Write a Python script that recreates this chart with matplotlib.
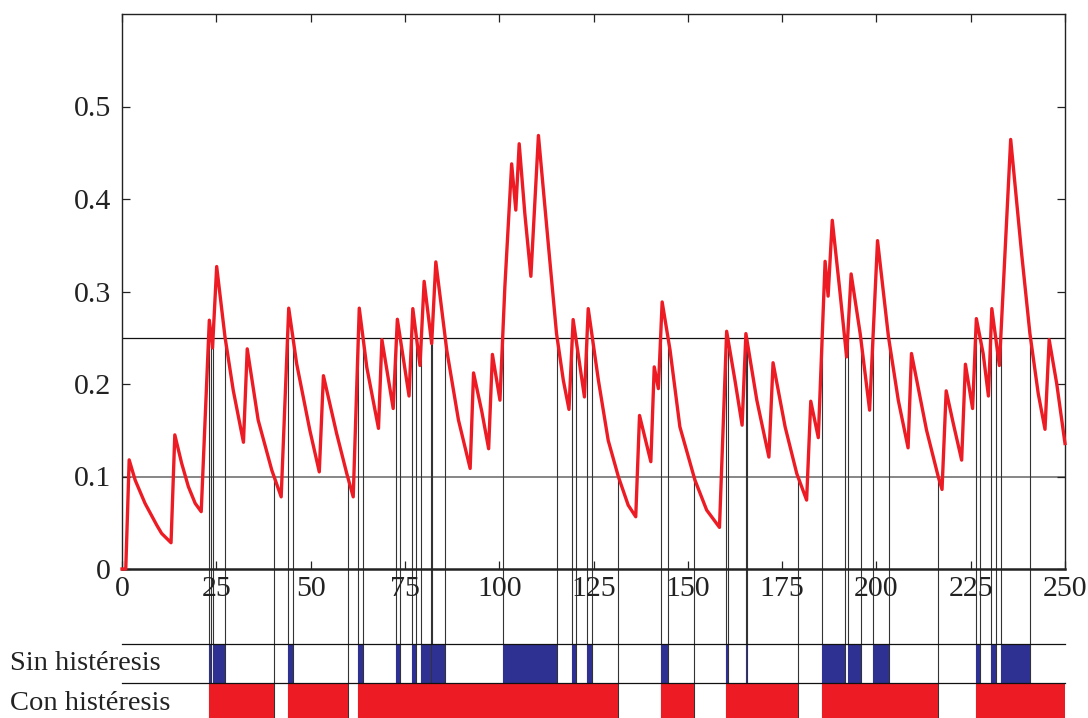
import numpy as np
import matplotlib
matplotlib.use('Agg')
import matplotlib.pyplot as plt

plt.rcParams['font.family'] = ['Liberation Serif', 'DejaVu Serif']

# signal samples (time, level)
t = [0, 1, 1.9, 3.5, 6.1, 9.2, 10.5, 13, 14, 15.8, 17.6, 19.4, 21, 23.15, 24,
     25.1, 27.3, 29.5, 32.2, 33.2, 36.1, 39.7, 42.2, 44.2, 46.3, 49.8, 52.3,
     53.4, 56.9, 59.6, 61.3, 62.9, 64.9, 68, 68.9, 71.9, 73, 76.1, 77.1, 79,
     80.1, 82.1, 83.2, 86.1, 89.2, 92.3, 93.2, 95.4, 97.2, 98.2, 100.2, 101.5,
     103.3, 104.4, 105.3, 106.8, 108.4, 110.4, 113, 115.2, 117, 118.5, 119.6,
     122.6, 123.6, 126.3, 128.9, 131.6, 134.2, 136.2, 137.2, 140.2, 141.1,
     142.2, 143.2, 145.3, 147.9, 151.9, 155, 158.4, 160.3, 162.5, 164.4, 165.4,
     168.3, 171.5, 172.6, 175.8, 178.9, 181.5, 182.6, 184.6, 186.4, 187.2,
     188.3, 190.3, 192.1, 193.3, 195.7, 198.2, 200.3, 203.2, 205.8, 208.4,
     209.3, 213.3, 216.4, 217.4, 218.5, 220.4, 222.6, 223.6, 225.5, 226.5,
     228.3, 229.7, 230.6, 232.6, 235.6, 238.5, 240.7, 242.9, 244.7, 245.8,
     247.8, 250]
v = [0, 0, 0.118, 0.096, 0.071, 0.0475, 0.0385, 0.0284, 0.145, 0.1145, 0.089,
     0.071, 0.062, 0.269, 0.239, 0.327, 0.251, 0.193, 0.137, 0.238, 0.161,
     0.107, 0.078, 0.282, 0.222, 0.150, 0.105, 0.209, 0.1465, 0.103, 0.078,
     0.282, 0.218, 0.152, 0.248, 0.1735, 0.270, 0.187, 0.2815, 0.220, 0.311,
     0.2437, 0.332, 0.2365, 0.161, 0.1087, 0.212, 0.170, 0.130, 0.232, 0.1825,
     0.305, 0.438, 0.388, 0.4597, 0.384, 0.3164, 0.4687, 0.352, 0.2545, 0.204,
     0.1725, 0.2697, 0.186, 0.2815, 0.204, 0.139, 0.0997, 0.069, 0.0565, 0.166,
     0.116, 0.2185, 0.195, 0.2887, 0.2365, 0.1537, 0.096, 0.0637, 0.045, 0.257,
     0.204, 0.1555, 0.2545, 0.1825, 0.121, 0.223, 0.1537, 0.103, 0.0745,
     0.1814, 0.142, 0.3326, 0.295, 0.377, 0.301, 0.2293, 0.319, 0.2545, 0.1717,
     0.355, 0.251, 0.1825, 0.131, 0.233, 0.150, 0.0997, 0.086, 0.1926, 0.157,
     0.1177, 0.2214, 0.1735, 0.2707, 0.233, 0.187, 0.2815, 0.220, 0.4644,
     0.341, 0.2545, 0.1897, 0.151, 0.248, 0.2005, 0.1357]

hi, lo = 0.25, 0.1

xticks = [0, 25, 50, 75, 100, 125, 150, 175, 200, 225, 250]
yticks = [0, 0.1, 0.2, 0.3, 0.4, 0.5]
ylabels = ['0', '0.1', '0.2', '0.3', '0.4', '0.5']
row_labels = ['Sin histéresis', 'Con histéresis']

t = np.array(t)
v = np.array(v)


def crossing(i, level):
    # linear crossing time inside segment i
    return t[i] + (level - v[i]) * (t[i + 1] - t[i]) / (v[i + 1] - v[i])


# comparator without hysteresis: on while above hi
plain = []
start = None
for i in range(len(t) - 1):
    if v[i] <= hi < v[i + 1]:
        start = crossing(i, hi)
    elif v[i] > hi >= v[i + 1] and start is not None:
        plain.append((start, crossing(i, hi)))
        start = None

# comparator with hysteresis: on above hi, off below lo
hyst = []
start = None
for i in range(len(t) - 1):
    if start is None and v[i] <= hi < v[i + 1]:
        start = crossing(i, hi)
    elif start is not None and v[i] >= lo > v[i + 1]:
        hyst.append((start, crossing(i, lo)))
        start = None
if start is not None:
    hyst.append((start, t[-1]))

fig = plt.figure(figsize=(10.88, 7.18), dpi=100)
ax = fig.add_axes([122 / 1088, 149 / 718, 943 / 1088, 555 / 718])
ax.set_xlim(0, 250)
ax.set_ylim(0, 0.6)

# bottom strip rows, in data units below the axis
row_top, row_mid, row_bot = -0.0811, -0.1232, -0.17

ax.axhline(hi, color='#111111', lw=0.9, zorder=1)
ax.axhline(lo, color='#666666', lw=1.1, zorder=1)
ax.plot(t, v, color='#ED1C24', lw=2.4, zorder=3, clip_on=False)

for a, b in plain:
    ax.fill_between([a, b], row_mid, row_top, color='#2E3192', lw=0,
                    clip_on=False, zorder=2)
    ax.plot([a, a], [hi, row_bot], color='#333333', lw=0.8, clip_on=False, zorder=1)
    ax.plot([b, b], [hi, row_bot], color='#333333', lw=0.8, clip_on=False, zorder=1)
for a, b in hyst:
    ax.fill_between([a, b], row_bot, row_mid, color='#ED1C24', lw=0,
                    clip_on=False, zorder=2)
    if b < t[-1]:
        ax.plot([b, b], [lo, row_bot], color='#333333', lw=0.8, clip_on=False, zorder=1)

ax.plot([0, 250], [row_top, row_top], color='#111111', lw=0.9, clip_on=False)
ax.plot([0, 250], [row_mid, row_mid], color='#111111', lw=0.9, clip_on=False)

ax.set_xticks(xticks)
ax.set_yticks(yticks)
ax.set_yticklabels(ylabels)
ax.tick_params(direction='in', top=True, right=True, length=6, width=0.9,
               labelsize=21.5, colors='#222222')
ax.tick_params(axis='x', pad=5)
ax.tick_params(axis='y', pad=8)
for s in ax.spines.values():
    s.set_linewidth(1.0)
    s.set_color('#222222')
ax.spines['bottom'].set_linewidth(1.8)

fig.text(10 / 1088, 1 - 663 / 718, row_labels[0], fontsize=20.5,
         va='center', ha='left', color='#222222')
fig.text(10 / 1088, 1 - 704 / 718, row_labels[1], fontsize=20.5,
         va='center', ha='left', color='#222222')

fig.savefig('out.png', dpi=100)
